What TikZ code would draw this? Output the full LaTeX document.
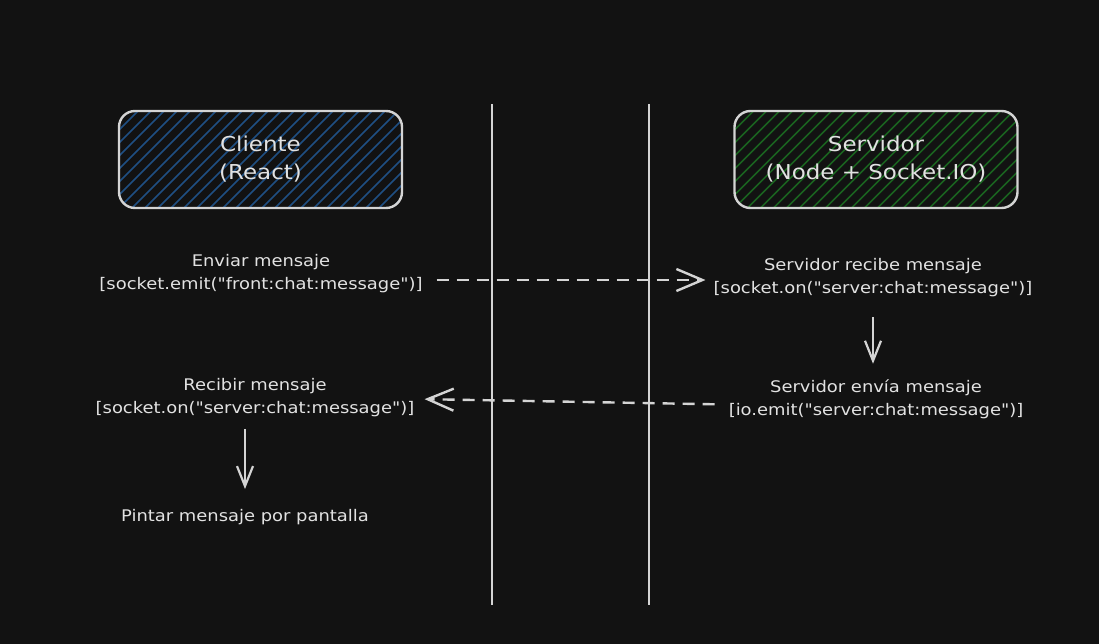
\documentclass[tikz,border=0pt]{standalone}
\usepackage{fontspec}
\setmainfont{DejaVu Sans}[Ligatures=TeXOff, FakeStretch=1.12]
\usetikzlibrary{arrows.meta}
\definecolor{bg}{HTML}{121212}
\definecolor{ink}{HTML}{D4D4D4}
\definecolor{txt}{HTML}{E2E2E2}
\definecolor{hblue}{HTML}{1F4F82}
\definecolor{hgreen}{HTML}{1A621F}
\tikzset{
  hatch/.style={path picture={
    \foreach \i in {-10,...,30}{
      \draw[#1,line width=1.5pt] ([xshift=\i*13pt]path picture bounding box.south west) -- ++(110pt,110pt);
    }}},
  titlebox/.style={draw=ink, line width=2.4pt, rounded corners=16pt, minimum width=283pt, minimum height=97pt,
    align=center, text=txt, font=\fontsize{20.5}{28}\selectfont, inner sep=0pt},
  lbl/.style={align=center, text=txt, font=\fontsize{16}{23}\selectfont, inner sep=2pt},
  sepline/.style={draw=ink, line width=2.8pt},
  dasharrow/.style={draw=ink, line width=2.4pt, dash pattern=on 12pt off 8pt,
    -{Straight Barb[length=26pt,width=22pt,line width=2.4pt]}},
  downarrow/.style={draw=ink, line width=2.2pt,
    -{Straight Barb[length=20pt,width=16pt,line width=2.2pt]}}
}
\begin{document}
\begin{tikzpicture}[x=1pt,y=-1pt]
\fill[bg] (0,0) rectangle (1099,644);
\useasboundingbox (0,0) rectangle (1099,644);

% separator lines
\coordinate (s1t) at (492,104);
\coordinate (s1b) at (492,605);
\coordinate (s2t) at (649,104);
\coordinate (s2b) at (649,605);
\draw[sepline] (s1t) -- (s1b);
\draw[sepline] (s2t) -- (s2b);

% title boxes
\node[titlebox, hatch=hblue] (cliente) at (260.5,159.5) {Cliente\\(React)};
\node[titlebox, hatch=hgreen] (servidor) at (876,159.5) {Servidor\\(Node + Socket.IO)};

% labels
\node[lbl] (enviar) at (261,274) {Enviar mensaje\\{}[socket.emit("front:chat:message")]};
\node[lbl] (recibe) at (873,277.5) {Servidor recibe mensaje\\{}[socket.on("server:chat:message")]};
\node[lbl] (envia) at (876,399.5) {Servidor envía mensaje\\{}[io.emit("server:chat:message")]};
\node[lbl] (recibir) at (255,397.5) {Recibir mensaje\\{}[socket.on("server:chat:message")]};
\node[lbl] (pintar) at (245,517) {Pintar mensaje por pantalla};

% connectors
\draw[dasharrow, shorten <=12pt, shorten >=6pt] ([yshift=-6pt]enviar.east) -- ([yshift=-6pt]enviar.east -| recibe.west);
\draw[dasharrow, shorten <=12pt, shorten >=8pt] ([yshift=-5pt]envia.west) -- ([yshift=-1.5pt]recibir.east);
\draw[downarrow, shorten <=18pt, shorten >=14pt] (recibe.south) -- (recibe.south |- envia.north);
\draw[downarrow, shorten <=10pt, shorten >=18pt] (pintar.north |- recibir.south) -- (pintar.north);
\end{tikzpicture}
\end{document}
